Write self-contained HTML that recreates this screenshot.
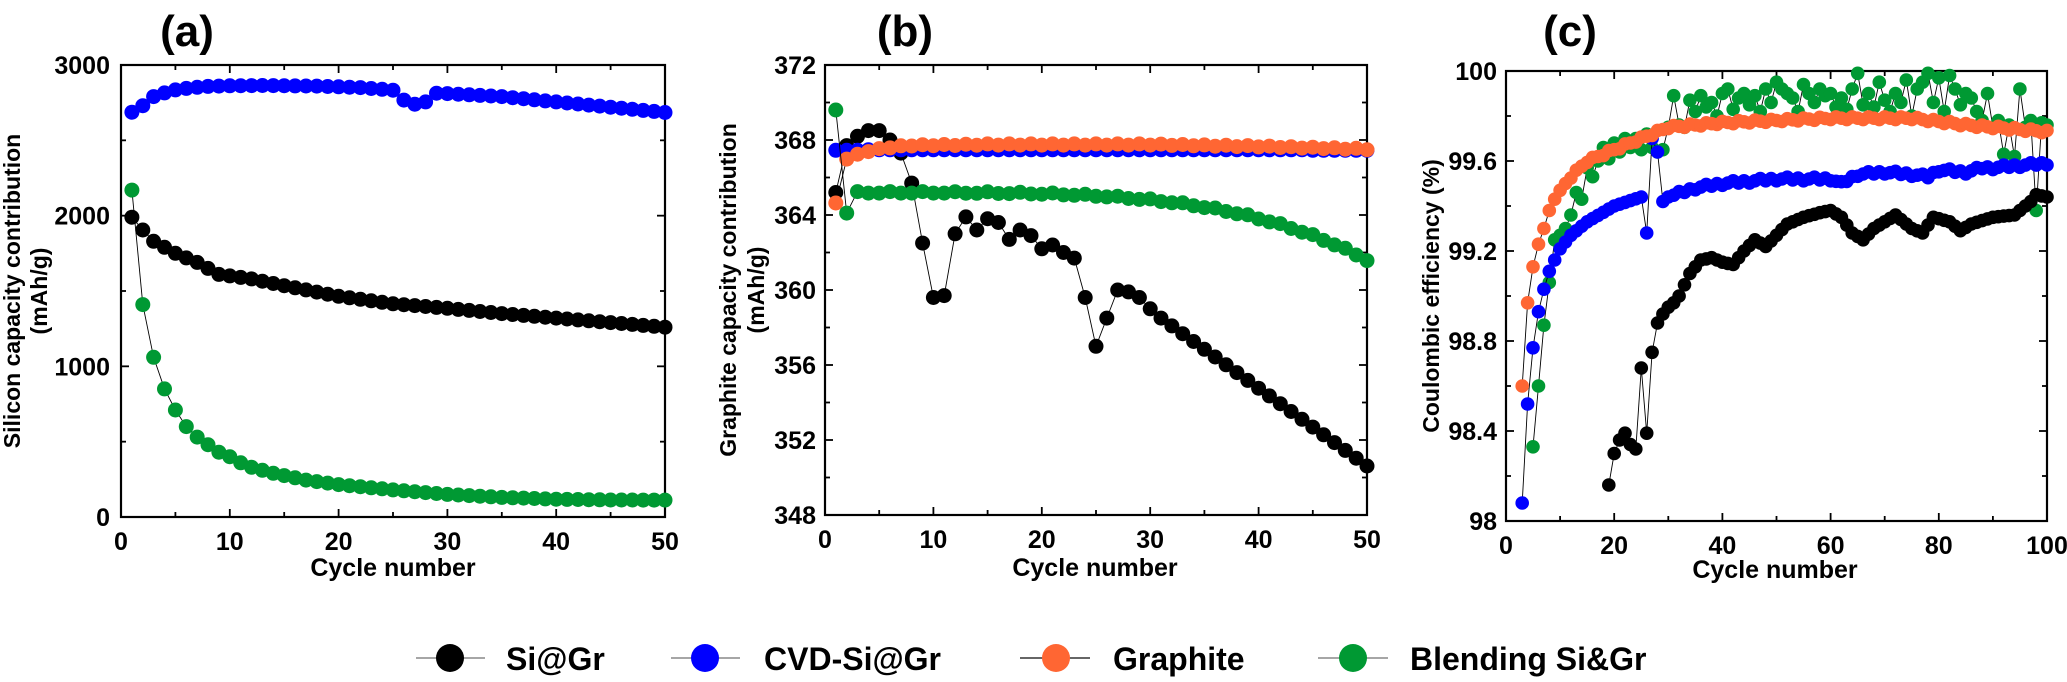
<!DOCTYPE html>
<html><head><meta charset="utf-8">
<style>
html,body{margin:0;padding:0;background:#fff;}
svg{display:block;font-family:"Liberation Sans",Arial,sans-serif;font-weight:bold;}
</style></head>
<body>
<svg id="s" width="2067" height="682" viewBox="0 0 2067 682" xmlns="http://www.w3.org/2000/svg">
<rect width="2067" height="682" fill="#fff"/>
<text x="187" y="46" font-size="44" text-anchor="middle">(a)</text>
<text x="905" y="46" font-size="44" text-anchor="middle">(b)</text>
<text x="1570" y="46" font-size="44" text-anchor="middle">(c)</text>
<text x="393" y="576" font-size="25" text-anchor="middle">Cycle number</text>
<text x="1095" y="576" font-size="25" text-anchor="middle">Cycle number</text>
<text x="1775" y="578" font-size="25" text-anchor="middle">Cycle number</text>
<text transform="translate(20,291) rotate(-90)" font-size="23" text-anchor="middle">Silicon capacity contribution</text>
<text transform="translate(47,291) rotate(-90)" font-size="23" text-anchor="middle">(mAh/g)</text>
<text transform="translate(736,290) rotate(-90)" font-size="23" text-anchor="middle">Graphite capacity contribution</text>
<text transform="translate(764,290) rotate(-90)" font-size="23" text-anchor="middle">(mAh/g)</text>
<text transform="translate(1439,296) rotate(-90)" font-size="23" text-anchor="middle">Coulombic efficiency (%)</text>
<g id="legend">
<line x1="416" y1="658" x2="485" y2="658" stroke="#888" stroke-width="1.5"/><circle cx="450" cy="658" r="14" fill="#000"/>
<text x="506" y="670" font-size="32">Si@Gr</text>
<line x1="671" y1="658" x2="740" y2="658" stroke="#888" stroke-width="1.5"/><circle cx="705" cy="658" r="14" fill="#0000ff"/>
<text x="764" y="670" font-size="32">CVD-Si@Gr</text>
<line x1="1020" y1="658" x2="1090" y2="658" stroke="#333" stroke-width="1.5"/><circle cx="1056" cy="658" r="14" fill="#ff6633"/>
<text x="1113" y="670" font-size="32">Graphite</text>
<line x1="1318" y1="658" x2="1388" y2="658" stroke="#888" stroke-width="1.5"/><circle cx="1353" cy="658" r="14" fill="#009933"/>
<text x="1410" y="670" font-size="32">Blending Si&amp;Gr</text>
</g>
</svg>
<script>
var S=document.getElementById('s'),NS='http://www.w3.org/2000/svg';
function el(t,a,txt){var e=document.createElementNS(NS,t);for(var k in a)e.setAttribute(k,a[k]);if(txt!=null)e.textContent=txt;S.appendChild(e);return e;}
function interp(pts,c){for(var i=0;i<pts.length-1;i++){if(c>=pts[i][0]&&c<=pts[i+1][0]){var t=(c-pts[i][0])/(pts[i+1][0]-pts[i][0]);return pts[i][1]+t*(pts[i+1][1]-pts[i][1]);}}return pts[pts.length-1][1];}
function axes(P){
 var X=function(c){return P.x0+(c-P.cx0)/(P.cx1-P.cx0)*(P.x1-P.x0)};
 var Y=function(v){return P.y1-(v-P.vy0)/(P.vy1-P.vy0)*(P.y1-P.y0)};
 P.X=X;P.Y=Y;
 el('rect',{x:P.x0,y:P.y0,width:P.x1-P.x0,height:P.y1-P.y0,fill:'none',stroke:'#000','stroke-width':2.2});
 for(var c=P.cx0;c<=P.cx1+1e-9;c+=P.xmin){var maj=Math.abs(Math.round((c-P.cx0)/P.xmaj)*P.xmaj-(c-P.cx0))<1e-6;var L=maj?8:5,x=X(c);
  el('line',{x1:x,y1:P.y1,x2:x,y2:P.y1-L,stroke:'#000','stroke-width':1.8});
  el('line',{x1:x,y1:P.y0,x2:x,y2:P.y0+L,stroke:'#000','stroke-width':1.8});
  if(maj)el('text',{x:x,y:P.y1+33,'font-size':25,'text-anchor':'middle'},String(Math.round(c)));}
 var n=Math.round((P.vy1-P.vy0)/P.ymin);
 for(var i=0;i<=n;i++){var v=P.vy0+i*P.ymin;var maj=(i%P.yr)==0;var L=maj?8:5,y=Y(v);
  el('line',{x1:P.x0,y1:y,x2:P.x0+L,y2:y,stroke:'#000','stroke-width':1.8});
  el('line',{x1:P.x1,y1:y,x2:P.x1-L,y2:y,stroke:'#000','stroke-width':1.8});
  if(maj)el('text',{x:P.lx,y:y+9,'font-size':25,'text-anchor':'end'},P.fmt(v));}
}
function series(P,data,col,r){
 var pts=data.map(function(d){return P.X(d[0]).toFixed(1)+','+P.Y(d[1]).toFixed(1)}).join(' ');
 el('polyline',{points:pts,fill:'none',stroke:'#000','stroke-width':0.9});
 data.forEach(function(d){el('circle',{cx:P.X(d[0]).toFixed(1),cy:P.Y(d[1]).toFixed(1),r:r,fill:col});});
}
function gen(a,b,f){var o=[];for(var c=a;c<=b;c++)o.push([c,f(c)]);return o;}
// Panel A
var A={x0:121,x1:665,y0:65,y1:517,cx0:0,cx1:50,vy0:0,vy1:3000,xmaj:10,xmin:5,ymin:500,yr:2,lx:110,fmt:function(v){return String(Math.round(v))}};
axes(A);
var blueA=[[1,2687],[2,2730],[3,2790],[4,2815],[5,2835],[6,2845],[7,2852],[8,2858],[10,2862],[13,2864],[18,2860],[22,2850],[25,2833],[26,2767],[27,2740],[28,2755],[29,2813],[30,2810],[35,2790],[40,2755],[45,2720],[50,2685]];
var blkA=[[1,1990],[2,1905],[3,1830],[4,1790],[5,1750],[6,1720],[7,1690],[8,1650],[9,1610],[10,1600],[12,1580],[15,1535],[20,1465],[25,1415],[30,1385],[35,1350],[40,1320],[45,1290],[50,1260]];
var grnA=[[1,2170],[2,1410],[3,1060],[4,850],[5,710],[6,600],[7,530],[8,480],[9,430],[10,400],[11,360],[12,330],[13,310],[14,290],[15,275],[17,245],[20,215],[25,180],[30,150],[35,130],[40,118],[45,113],[50,112]];
series(A,gen(1,50,function(c){return interp(blueA,c)}),'#0000ff',7.5);
series(A,gen(1,50,function(c){return interp(blkA,c)}),'#000',7.5);
series(A,gen(1,50,function(c){return interp(grnA,c)}),'#009933',7.5);
// Panel B
var B={x0:825,x1:1367,y0:65,y1:515,cx0:0,cx1:50,vy0:348,vy1:372,xmaj:10,xmin:5,ymin:2,yr:2,lx:816,fmt:function(v){return String(Math.round(v))}};
axes(B);
var blkB=[365.2,367.7,368.2,368.5,368.5,368.0,367.3,365.7,362.5,359.6,359.7,363.0,363.9,363.2,363.8,363.6,362.7,363.2,362.9,362.2,362.4,362.0,361.7,359.6,357.0,358.5,360.0,359.9,359.6,359.0,358.5];
series(B,gen(1,50,function(c){return c<=31?blkB[c-1]:358.5-(c-31)*0.415}),'#000',7.5);
series(B,gen(1,50,function(c){return 367.45+(c>3&&c<45?0.03:0)}),'#0000ff',7.5);
var orB=[[1,364.6],[2,367.0],[3,367.2],[4,367.4],[5,367.5],[6,367.6],[8,367.7],[15,367.75],[30,367.75],[40,367.65],[50,367.5]];
series(B,gen(1,50,function(c){return interp(orB,c)+(c%2?0.04:-0.02)}),'#ff6633',7.5);
series(B,gen(1,50,function(c){if(c==1)return 369.6;if(c==2)return 364.1;var t=(c-3)/47;return 365.2-3.6*Math.pow(t,4)+(c%3==0?0.05:-0.03);}),'#009933',7.5);
// Panel C
var C={x0:1506,x1:2047,y0:71,y1:521,cx0:0,cx1:100,vy0:98,vy1:100,xmaj:20,xmin:10,ymin:0.2,yr:2,lx:1497,fmt:function(v){var s=v.toFixed(1);return s.slice(-2)=='.0'?s.slice(0,-2):s}};
axes(C);
var g=[98.33,98.6,98.87,99.06,99.25,99.27,99.3,99.36,99.46,99.43,99.57,99.53,99.6,99.66,99.61,99.68,99.64,99.7,99.66,99.7,99.65,99.72,99.66,99.64,99.65,99.75,99.89,99.76,99.75,99.87,99.82,99.89,99.84,99.86,99.8,99.9,99.92,99.83,99.88,99.9,99.85,99.89,99.82,99.92,99.86,99.95,99.92,99.9,99.88,99.82,99.94,99.9,99.86,99.92,99.89,99.9,99.84,99.88,99.83,99.92,99.99,99.85,99.9,99.84,99.95,99.87,99.82,99.9,99.86,99.96,99.8,99.92,99.95,99.99,99.86,99.97,99.82,99.98,99.92,99.85,99.9,99.88,99.82,99.78,99.9,99.75,99.78,99.63,99.76,99.62,99.92,99.75,99.78,99.38,99.77,99.76];
series(C,gen(5,100,function(c){return g[c-5]}),'#009933',6.8);
var bk=[[19,98.16],[20,98.3],[21,98.36],[22,98.39],[23,98.34],[24,98.32],[25,98.68],[26,98.39],[27,98.75],[28,98.88],[29,98.92],[30,98.95],[31,98.97],[32,99.0],[33,99.05],[34,99.1],[35,99.13],[36,99.16],[38,99.17],[40,99.15],[42,99.14],[44,99.2],[46,99.25],[48,99.22],[50,99.27],[52,99.32],[55,99.35],[58,99.37],[60,99.38],[62,99.35],[64,99.28],[66,99.25],[68,99.3],[72,99.36],[75,99.3],[77,99.28],[79,99.35],[82,99.33],[84,99.29],[86,99.32],[90,99.35],[94,99.36],[97,99.42],[98,99.45],[100,99.44]];
series(C,gen(19,100,function(c){return interp(bk,c)}),'#000',6.8);
var bl=[[3,98.08],[4,98.52],[5,98.77],[6,98.93],[7,99.03],[8,99.11],[9,99.16],[10,99.21],[12,99.27],[15,99.33],[20,99.4],[25,99.44],[26,99.28],[27,99.7],[28,99.64],[29,99.42],[30,99.44],[35,99.48],[40,99.5],[50,99.52],[60,99.52],[62,99.5],[65,99.54],[70,99.55],[75,99.54],[78,99.53],[80,99.56],[85,99.55],[88,99.57],[90,99.57],[100,99.59]];
series(C,gen(3,100,function(c){return interp(bl,c)+(c>30?((c*7)%5-2)*0.004:0)}),'#0000ff',6.8);
var orc=[[3,98.6],[4,98.97],[5,99.13],[6,99.23],[7,99.3],[8,99.38],[9,99.43],[10,99.47],[12,99.53],[15,99.6],[20,99.65],[25,99.7],[30,99.75],[40,99.77],[60,99.79],[75,99.79],[85,99.76],[100,99.73]];
series(C,gen(3,100,function(c){return interp(orc,c)+(c>10?((c*5)%3-1)*0.006:0)}),'#ff6633',6.8);
</script>
</body></html>
